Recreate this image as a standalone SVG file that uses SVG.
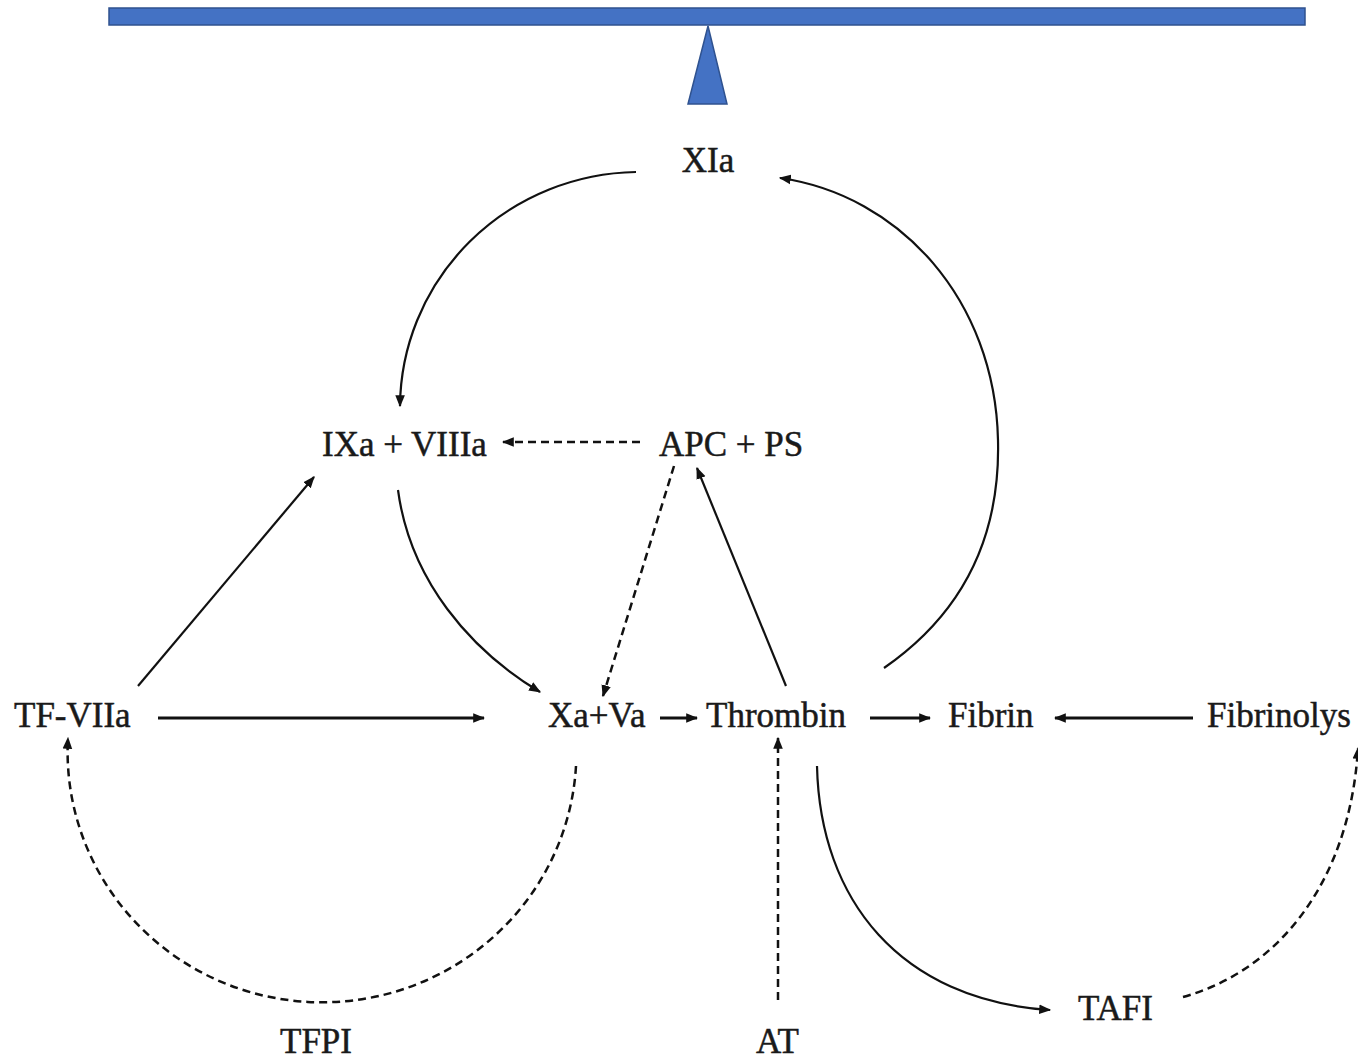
<svg xmlns="http://www.w3.org/2000/svg" width="1358" height="1059" viewBox="0 0 1358 1059">
<defs>
<style>
.t{font-family:"Liberation Serif","Times New Roman",serif;font-size:35px;fill:#1a1a1a;stroke:#1a1a1a;stroke-width:0.5;}
.c{fill:none;stroke:#111;stroke-width:2.2;}
.d{stroke-dasharray:8,5;stroke-width:2.5;}
</style>
<marker id="ah" viewBox="0 0 10 10" refX="9" refY="5" markerWidth="12" markerHeight="12" markerUnits="userSpaceOnUse" orient="auto">
<path d="M0,1 L10,5 L0,9 Z" fill="#111"/>
</marker>
</defs>
<rect width="1358" height="1059" fill="#fff"/>
<g id="balance">
<rect x="109" y="8" width="1196" height="17" fill="#4472c4" stroke="#2f528f" stroke-width="1.5"/>
<path d="M708,26 L727,104 L688,104 Z" fill="#4472c4" stroke="#2f528f" stroke-width="1.5"/>
</g>
<g id="connectors">
<path class="c" d="M636,172 A240,236 0 0 0 400,406" marker-end="url(#ah)"/>
<path class="c" d="M884,668 C975,605 1000,520 998,440 C995,300 900,195 780,178" marker-end="url(#ah)"/>
<path class="c d" d="M640,442 L503,442" marker-end="url(#ah)"/>
<path class="c d" d="M674,466 L603,696" marker-end="url(#ah)"/>
<path class="c" d="M786,686 L697,468" marker-end="url(#ah)"/>
<path class="c" d="M398,490 C410,580 470,650 540,692" marker-end="url(#ah)"/>
<path class="c" d="M138,686 L314,477" marker-end="url(#ah)"/>
<path class="c" style="stroke-width:3" d="M158,718 L484,718" marker-end="url(#ah)"/>
<path class="c" style="stroke-width:3" d="M660,718 L697,718" marker-end="url(#ah)"/>
<path class="c" style="stroke-width:3" d="M870,718 L930,718" marker-end="url(#ah)"/>
<path class="c" style="stroke-width:3" d="M1193,718 L1055,718" marker-end="url(#ah)"/>
<path class="c" d="M817,766 C820,900 900,1000 1050,1010" marker-end="url(#ah)"/>
<path class="c d" d="M1183,997 C1280,970 1350,880 1358,748" marker-end="url(#ah)"/>
<path class="c d" d="M576,766 A254,250 0 0 1 68,738" marker-end="url(#ah)"/>
<path class="c d" d="M778,1000 L778,738" marker-end="url(#ah)"/>
</g>
<g id="n-xia"><text class="t" x="708" y="172" text-anchor="middle">XIa</text></g>
<g id="n-ixa"><text class="t" x="322" y="456">IXa + VIIIa</text></g>
<g id="n-apc"><text class="t" x="659" y="456">APC + PS</text></g>
<g id="n-tf"><text class="t" x="14" y="727">TF-VIIa</text></g>
<g id="n-xa"><text class="t" x="548" y="727">Xa+Va</text></g>
<g id="n-thr"><text class="t" x="706" y="727">Thrombin</text></g>
<g id="n-fib"><text class="t" x="948" y="727">Fibrin</text></g>
<g id="n-fibl"><text class="t" x="1207" y="727">Fibrinolys</text></g>
<g id="n-tafi"><text class="t" x="1078" y="1020">TAFI</text></g>
<g id="n-tfpi"><text class="t" x="280" y="1053">TFPI</text></g>
<g id="n-at"><text class="t" x="756" y="1053">AT</text></g>
</svg>
